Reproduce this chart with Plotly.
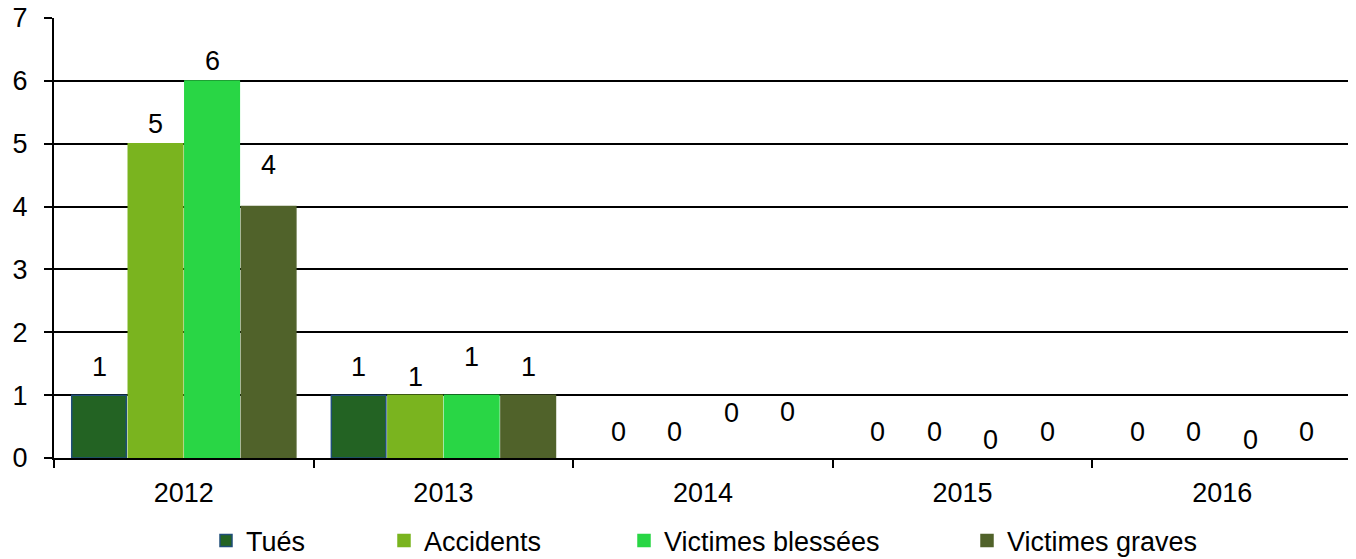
import plotly.graph_objects as go

years = ["2012", "2013", "2014", "2015", "2016"]
tues = [1, 1, 0, 0, 0]
accidents = [5, 1, 0, 0, 0]
victimes_blessees = [6, 1, 0, 0, 0]
victimes_graves = [4, 1, 0, 0, 0]

series_names = ["Tués", "Accidents", "Victimes blessées", "Victimes graves"]
series_values = [tues, accidents, victimes_blessees, victimes_graves]
colors = ["#236323", "#7AB41F", "#29D645", "#50622A"]
line_colors = ["#1F4E79", "#7AB41F", "#29D645", "#50622A"]
y_ticks = [0, 1, 2, 3, 4, 5, 6, 7]
# label vertical offsets in px (style only)
label_shifts = [
    [28, 28, 26, 26, 26],
    [20, 18, 26, 26, 26],
    [20, 38, 45, 18, 18],
    [42, 28, 46, 26, 26],
]
# legend item left positions in px (style only)
legend_x_px = [198, 376, 616, 959]
legend_ids = ["legend", "legend2", "legend3", "legend4"]

FONT = "Liberation Sans, Arial, sans-serif"
FS = 27
# page body has an 8px margin; size the figure to compensate
W, H = 1348, 551

fig = go.Figure()
for name, vals, c, lc, lid in zip(series_names, series_values, colors, line_colors, legend_ids):
    fig.add_trace(go.Bar(
        name=name, x=years, y=vals,
        marker=dict(color=c, line=dict(color=lc, width=[1.5 if v > 0 else 0 for v in vals])),
        legend=lid,
    ))

n = len(series_names)
bargap = 0.129
groupgap = 0.035
for si, (vals, shifts) in enumerate(zip(series_values, label_shifts)):
    group_w = 1 - bargap
    slot = group_w / n
    offset = -group_w / 2 + slot * (si + 0.5)
    for xi, (v, s) in enumerate(zip(vals, shifts)):
        fig.add_annotation(
            x=xi + offset, y=v, xref="x", yref="y", text=str(v), showarrow=False,
            yshift=s, font=dict(family=FONT, size=FS, color="black"),
        )

layout_legends = {}
for lid, px in zip(legend_ids, legend_x_px):
    layout_legends[lid] = dict(
        orientation="h", xref="container", yref="container",
        x=px / W, xanchor="left", y=(H - 533) / H, yanchor="middle",
        font=dict(family=FONT, size=FS, color="black"), bgcolor="rgba(0,0,0,0)",
        borderwidth=0,
    )

fig.update_layout(
    width=W, height=H,
    margin=dict(l=46, r=4, t=10, b=101, autoexpand=False),
    plot_bgcolor="white", paper_bgcolor="white",
    barmode="group", bargap=bargap, bargroupgap=groupgap,
    font=dict(family=FONT, size=FS, color="black"),
    showlegend=True,
    xaxis=dict(
        type="category", showline=True, linecolor="black", linewidth=2,
        ticks="outside", tickson="boundaries", ticklen=8, tickcolor="black", tickwidth=2,
        showgrid=False, tickfont=dict(family=FONT, size=FS), range=[-0.5, 4.5],
        automargin=False, ticklabelstandoff=10,
    ),
    yaxis=dict(
        range=[0, 7.0005], tickmode="array", tickvals=y_ticks,
        showline=True, linecolor="black", linewidth=2,
        ticks="outside", ticklen=8, tickcolor="black", tickwidth=2,
        showgrid=True, gridcolor="black", gridwidth=2, zeroline=False,
        tickfont=dict(family=FONT, size=FS), automargin=False, ticklabelstandoff=11,
        ticklabeloverflow="allow",
    ),
    **layout_legends,
)
fig.write_html("out.html")
